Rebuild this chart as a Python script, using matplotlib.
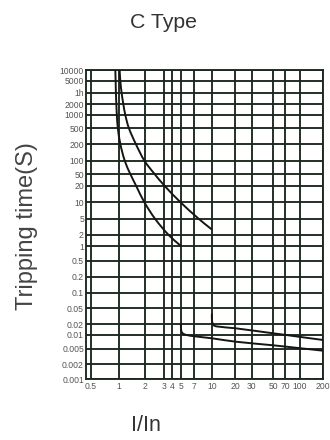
import numpy as np
import matplotlib
matplotlib.use("Agg")
import matplotlib.pyplot as plt
from matplotlib.path import Path
from matplotlib.patches import PathPatch

plt.rcParams['font.family'] = ['Liberation Sans', 'DejaVu Sans']

# ---- data ----
x_ticks = [0.5, 1, 2, 3, 4, 5, 7, 10, 20, 30, 50, 70, 100, 200]
x_tick_labels = ['0.5', '1', '2', '3', '4', '5', '7', '10', '20', '30', '50', '70', '100', '200']
y_ticks = [0.001, 0.002, 0.005, 0.01, 0.02, 0.05, 0.1, 0.2, 0.5, 1, 2, 5, 10,
           20, 50, 100, 200, 500, 1000, 2000, 3600, 5000, 10000]
y_tick_labels = ['0.001', '0.002', '0.005', '0.01', '0.02', '0.05', '0.1', '0.2', '0.5',
                 '1', '2', '5', '10', '20', '50', '100', '200', '500', '1000', '2000',
                 '1h', '5000', '10000']

lower_thermal_x = [0.92, 0.927, 0.934, 0.944, 0.956, 0.98, 1.046, 1.18, 1.366, 1.6, 1.98, 2.51, 3.55, 5.0]
lower_thermal_t = [10000, 5000, 3600, 2000, 1000, 500, 200, 100, 50, 20, 10, 5, 2, 1]

upper_thermal_x = [1.027, 1.046, 1.083, 1.133, 1.195, 1.313, 1.582, 2.0, 2.475, 3.12, 4.91, 7.7, 9.9]
upper_thermal_t = [10000, 5000, 3600, 2000, 1000, 500, 200, 100, 50, 20, 10, 5, 2.8]

lower_mag_x = [5.0, 5.02, 5.15, 5.6, 7, 10, 20, 50, 100, 200]
lower_mag_t = [0.02, 0.014, 0.0115, 0.0102, 0.0094, 0.0085, 0.0072, 0.006, 0.0052, 0.0045]

upper_mag_x = [10, 10.05, 10.4, 11.5, 20, 50, 70, 100, 200]
upper_mag_t = [0.035, 0.024, 0.019, 0.0172, 0.0153, 0.0111, 0.0101, 0.0091, 0.0078]

# ---- non-uniform printed grid: tick positions (layout) ----
x_pos = [5.0, 32.6, 58.6, 77.6, 86.3, 95.0, 108.3, 126.0, 149.3, 166.0, 187.6, 199.3, 214.3, 237.6]
y_pos = [0, 15, 30, 44, 55, 71, 86, 102, 118, 133, 144, 160, 177, 193, 205, 218, 235, 251, 264, 275, 286, 298, 309]


def make_funcs(vals, pos):
    lv = np.log10(np.asarray(vals, float))
    p = np.asarray(pos, float)
    s0 = (p[1] - p[0]) / (lv[1] - lv[0])
    s1 = (p[-1] - p[-2]) / (lv[-1] - lv[-2])

    def fwd(v):
        v = np.asarray(v, float)
        lx = np.log10(np.clip(v, 1e-12, None))
        out = np.interp(lx, lv, p)
        out = np.where(lx < lv[0], p[0] + (lx - lv[0]) * s0, out)
        out = np.where(lx > lv[-1], p[-1] + (lx - lv[-1]) * s1, out)
        return out

    def inv(q):
        q = np.asarray(q, float)
        out = np.interp(q, p, lv)
        out = np.where(q < p[0], lv[0] + (q - p[0]) / s0, out)
        out = np.where(q > p[-1], lv[-1] + (q - p[-1]) / s1, out)
        return 10 ** out

    return fwd, inv


xf = make_funcs(x_ticks, x_pos)
yf = make_funcs(y_ticks, y_pos)


def smooth_path(xs, ys):
    """Cubic Bezier path through the points (chord-length Catmull-Rom in scale space)."""
    P = np.column_stack([xf[0](xs), yf[0](ys)])
    n = len(P)
    d = np.linalg.norm(np.diff(P, axis=0), axis=1)
    m = np.zeros_like(P)
    for i in range(n):
        if i == 0:
            m[i] = (P[1] - P[0]) / d[0]
        elif i == n - 1:
            m[i] = (P[-1] - P[-2]) / d[-1]
        else:
            m[i] = (P[i + 1] - P[i - 1]) / (d[i - 1] + d[i])
    verts = [P[0]]
    codes = [Path.MOVETO]
    for i in range(n - 1):
        c1 = P[i] + m[i] * d[i] / 3
        c2 = P[i + 1] - m[i + 1] * d[i] / 3
        verts += [c1, c2, P[i + 1]]
        codes += [Path.CURVE4] * 3
    verts = np.array(verts)
    data = np.column_stack([xf[1](verts[:, 0]), yf[1](verts[:, 1])])
    return Path(data, codes)


fig = plt.figure(figsize=(3.3, 4.4), dpi=100)
ax = fig.add_axes([86 / 330, 1 - 379 / 440, (323.3 - 86) / 330, (379 - 70) / 440])

ax.set_xscale('function', functions=xf)
ax.set_yscale('function', functions=yf)
ax.set_xlim(0.44, 200)
ax.set_ylim(0.001, 10000)

grid_color = '#1b281e'
ax.set_xticks(x_ticks)
ax.set_xticklabels(x_tick_labels)
ax.set_yticks(y_ticks)
ax.set_yticklabels(y_tick_labels)
ax.minorticks_off()
ax.tick_params(axis='both', length=0, labelsize=6.2, labelcolor='#555555')
ax.tick_params(axis='x', pad=2.5)
ax.tick_params(axis='y', pad=1.5)
ax.grid(True, color=grid_color, lw=1.35)
for s in ax.spines.values():
    s.set_color(grid_color)
    s.set_linewidth(1.35)

for xs, ts in [(lower_thermal_x, lower_thermal_t), (upper_thermal_x, upper_thermal_t),
               (lower_mag_x, lower_mag_t), (upper_mag_x, upper_mag_t)]:
    ax.add_patch(PathPatch(smooth_path(xs, ts), fill=False, edgecolor='#151515', lw=1.4,
                           capstyle='round', zorder=3))

fig.text(163 / 330, 1 - 22 / 440, 'C Type', ha='center', va='center', fontsize=15.3, color='#333333')
fig.text(27 / 330, 1 - 226 / 440, 'Tripping time(S)', ha='center', va='center', rotation=90,
         fontsize=17, color='#444444')
fig.text(146 / 330, 1 - 425 / 440, 'I/In', ha='center', va='center', fontsize=15.5, color='#333333')

fig.savefig('out.png', dpi=100)
